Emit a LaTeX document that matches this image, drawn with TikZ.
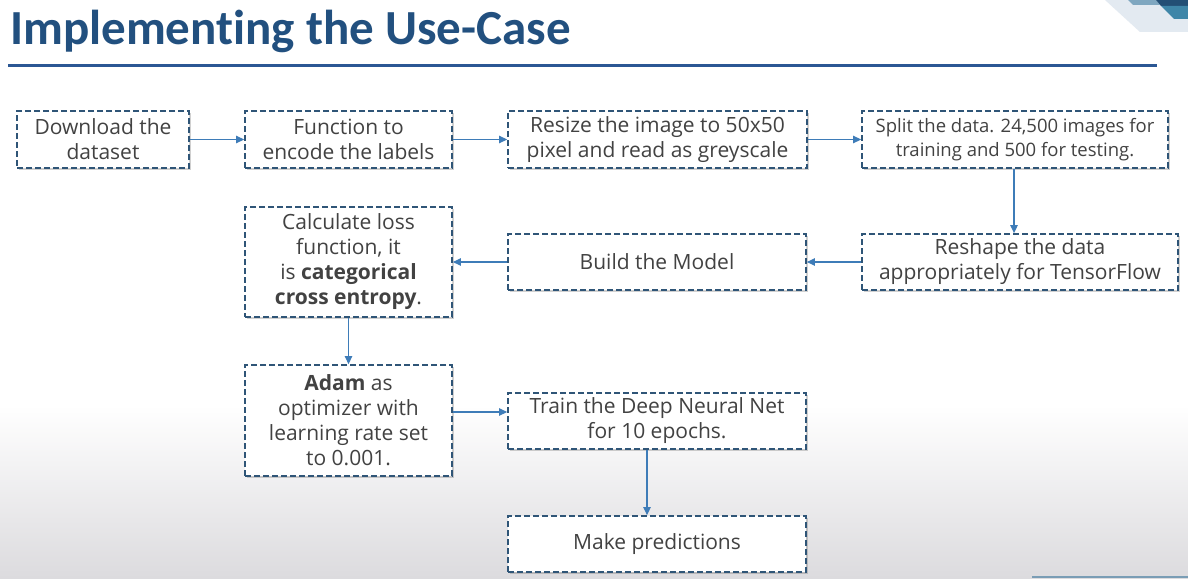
\documentclass[tikz,border=0pt]{standalone}
\usepackage{fontspec}
\setmainfont{Open Sans}
\newfontfamily\titlefont{Carlito}[Ligatures=NoCommon]
\usetikzlibrary{arrows.meta,shadows}
\definecolor{titleblue}{HTML}{22507F}
\definecolor{ruleblue}{HTML}{2B5794}
\definecolor{boxedge}{HTML}{2F5577}
\definecolor{arrowblue}{HTML}{3E7CB8}
\definecolor{txt}{HTML}{424242}
\definecolor{bgbot}{HTML}{DCDBDE}
\definecolor{decolight}{HTML}{E3EAF1}
\definecolor{decosteel}{HTML}{7FA7C0}
\definecolor{deconavy}{HTML}{234F75}
\definecolor{decoteal}{HTML}{3F86A8}
\definecolor{footline}{HTML}{7A9DB5}
\tikzset{
  stepbox/.style={draw=boxedge, line width=1.8pt, dash pattern=on 6pt off 3pt,
    fill=white, rectangle, align=center, text=txt, inner sep=0pt,
    font=\fontsize{21}{25}\selectfont,
    drop shadow={shadow xshift=1.5pt, shadow yshift=-2pt, opacity=0.3, fill=black!60}},
  arr/.style={draw=arrowblue, line width=1.2pt, -{Triangle[length=8pt,width=7.5pt]}}
}
\begin{document}
\begin{tikzpicture}[x=1pt,y=-1pt]
\useasboundingbox (0,0) rectangle (1188,578);
% background
\fill[white] (0,0) rectangle (1188,578);
\shade[top color=white, bottom color=bgbot] (0,405) rectangle (1188,578);
\draw[footline, line width=1.5pt] (1032,577) -- (1188,577);
% corner decoration
\fill[decolight] (1105,0) -- (1188,0) -- (1188,32) -- (1140,32) -- cycle;
\fill[decosteel] (1128,0) -- (1156,0) -- (1160,5) -- (1133,5) -- cycle;
\fill[deconavy] (1156,0) -- (1188,0) -- (1188,6) -- (1161,6) -- cycle;
\fill[decoteal] (1161,6) -- (1188,6) -- (1188,19) -- (1174,19) -- cycle;
% title
\node[anchor=base west, inner sep=0pt, text=titleblue, font=\titlefont\bfseries\fontsize{49}{52}\selectfont] (title) at (10,45) {Implementing the Use-Case};
\draw[ruleblue, line width=3.2pt] (8,65.5) -- (1157,65.5);
% boxes
\node[stepbox, minimum width=172pt, minimum height=57pt] (b1) at (103,139.5) {Download the\\dataset};
\node[stepbox, minimum width=207pt, minimum height=57pt] (b2) at (348.5,139.5) {Function to\\encode the labels};
\node[stepbox, minimum width=299pt, minimum height=57pt] (b3) at (657.5,139.5) {Resize the image to 50x50\\pixel and read as greyscale};
\node[stepbox, minimum width=306pt, minimum height=57pt, font=\fontsize{18.5}{24}\selectfont] (b4) at (1015,139.5) {Split the data. 24,500 images for\\training and 500 for testing.};
\node[stepbox, minimum width=316pt, minimum height=56pt] (b5) at (1020,262) {Reshape the data\\appropriately for TensorFlow};
\node[stepbox, minimum width=298pt, minimum height=56pt] (b6) at (657,262) {Build the Model};
\node[stepbox, minimum width=207pt, minimum height=110pt] (b7) at (348.5,262) {Calculate loss\\function, it\\is \textbf{categorical}\\\textbf{cross entropy}.};
\node[stepbox, minimum width=207pt, minimum height=111pt] (b8) at (348.5,420.5) {\textbf{Adam} as\\optimizer with\\learning rate set\\to 0.001.};
\node[stepbox, minimum width=298pt, minimum height=56pt] (b9) at (657,421) {Train the Deep Neural Net\\for 10 epochs.};
\node[stepbox, minimum width=298pt, minimum height=56pt] (b10) at (657,544) {Make predictions};
% connectors
\draw[arr] (b1) -- (b2);
\draw[arr] (b2) -- (b3);
\draw[arr] (b3) -- (b4);
\draw[arr] ([xshift=-1pt]b4.south) -- ([xshift=-1pt]b4.south |- b5.north);
\draw[arr] (b5) -- (b6);
\draw[arr] (b6) -- (b7);
\draw[arr] (b7) -- (b8);
\draw[arr] ([yshift=8.5pt]b8.east) -- ([yshift=8.5pt]b8.east -| b9.west);
\draw[arr] ([xshift=-10pt]b9.south) -- ([xshift=-10pt]b9.south |- b10.north);
\end{tikzpicture}
\end{document}
